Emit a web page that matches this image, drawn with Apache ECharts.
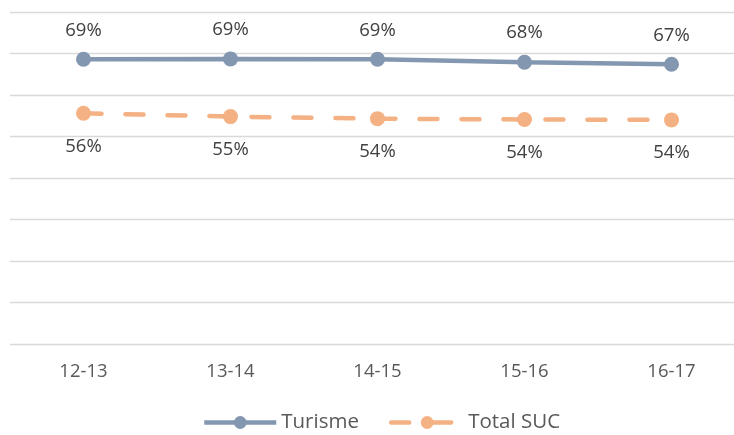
<!DOCTYPE html>
<html><head><meta charset="utf-8">
<script src="https://cdn.jsdelivr.net/npm/echarts@6/dist/echarts.min.js"></script>
<style>html,body{margin:0;padding:0;background:#fff;overflow:hidden;width:734px;height:435px}#c{width:745px;height:435px}</style>
</head><body><div id="c"></div>
<script>
var categories = ['12-13','13-14','14-15','15-16','16-17'];
var turisme = [0.686, 0.687, 0.686, 0.679, 0.674];
var totalSUC = [0.556, 0.548, 0.543, 0.541, 0.540];
var seriesNames = ['Turisme','Total SUC'];

var chart = echarts.init(document.getElementById('c'));
var fmt = function(p){ return Math.round(p.value*100) + '%'; };
chart.setOption({
  animation:false,
  textStyle:{fontFamily:'Open Sans, Noto Sans, sans-serif'},
  grid:{left:10, right:0, top:12, bottom:91},
  legend:{top:412, left:202, padding:0, itemWidth:72, itemHeight:16, itemGap:30,
    textStyle:{fontSize:20.5, color:'#595959'},
    lineStyle:{width:4.5},
    data:seriesNames},
  xAxis:{type:'category', data:categories, boundaryGap:true,
    axisLine:{show:false}, axisTick:{show:false},
    axisLabel:{fontSize:18.5, color:'#595959', margin:18}},
  yAxis:{type:'value', min:0, max:0.8, interval:0.1,
    axisLabel:{show:false}, axisLine:{show:false}, axisTick:{show:false},
    splitLine:{lineStyle:{color:'#d9d9d9', width:1.3}}},
  series:[
    {name:seriesNames[0], type:'line', data:turisme, symbol:'circle', symbolSize:15,
     lineStyle:{color:'#8497B0', width:4.5}, itemStyle:{color:'#8497B0'},
     label:{show:true, position:'top', distance:12, fontSize:18.5, color:'#404040', formatter:fmt}},
    {name:seriesNames[1], type:'line', data:totalSUC, symbol:'circle', symbolSize:15,
     lineStyle:{color:'#F4B183', width:4.5, type:[18,24], cap:'round'}, itemStyle:{color:'#F4B183'},
     label:{show:true, position:'bottom', distance:16, fontSize:18.5, color:'#404040', formatter:fmt}}
  ]
});
</script></body></html>
